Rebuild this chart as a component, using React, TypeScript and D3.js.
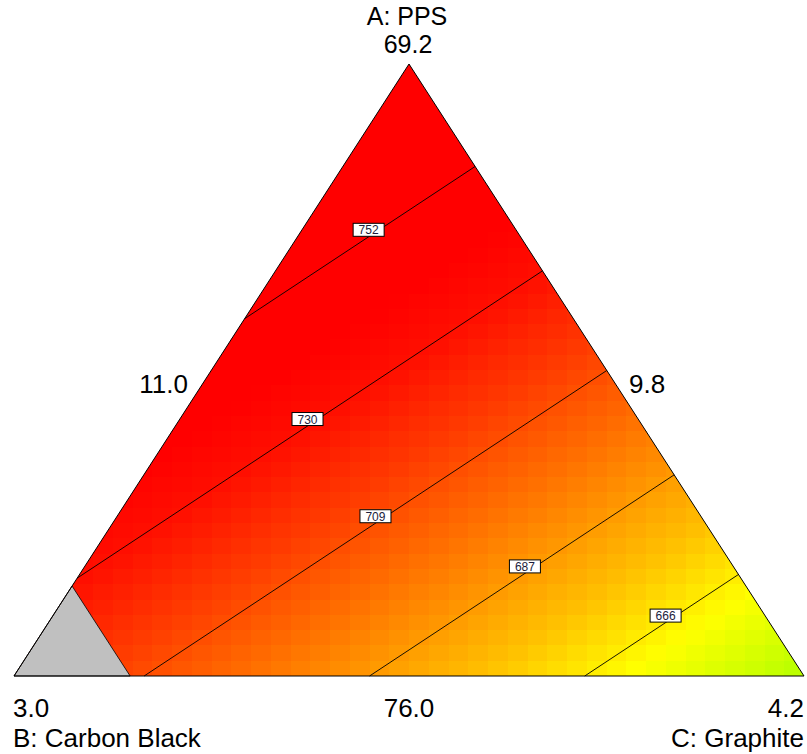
import React from 'react';
import * as d3 from 'd3';

// ---------- data ----------
const componentNames = ['A: PPS', 'B: Carbon Black', 'C: Graphite'];
const vertexValues = ['69.2', '3.0', '4.2']; // at vertices A, B, C
const oppositeEdgeValues = ['76.0', '9.8', '11.0']; // on edge opposite A, B, C
// linear mixture model coefficients (pseudo-component vertices A, B, C)
const modelCoefs = [773.6, 721.7, 644.6];
const contourLevels = [666, 687, 709, 730, 752];
const labelFractions = [0.526, 0.51, 0.5, 0.495, 0.538];
const bPseudoLimit = 0.853; // B above this is outside the design space
const colorValues = [644.6, 662, 676.5, 699, 715, 729, 740];
const colorStops = ['#b4ff00', '#ffff00', '#ffc000', '#ff7000', '#ff3a00', '#ff1000', '#ff0000'];

// ---------- layout ----------
const W = 807;
const H = 754;
const TOP: [number, number] = [409, 64];
const LEFT: [number, number] = [14, 676];
const RIGHT: [number, number] = [804, 676];
const N_GRID = 40;
const FONT = '"Liberation Sans", Arial, Helvetica, sans-serif';

type Tern = [number, number, number];

const toXY = (t: Tern): [number, number] => [
  t[0] * TOP[0] + t[1] * LEFT[0] + t[2] * RIGHT[0],
  t[0] * TOP[1] + t[1] * LEFT[1] + t[2] * RIGHT[1],
];
const fromXY = (x: number, y: number): Tern => {
  const a = (LEFT[1] - y) / (LEFT[1] - TOP[1]);
  const c = (x - LEFT[0] - a * (TOP[0] - LEFT[0])) / (RIGHT[0] - LEFT[0]);
  return [a, 1 - a - c, c];
};
const model = (t: Tern) => t[0] * modelCoefs[0] + t[1] * modelCoefs[1] + t[2] * modelCoefs[2];

const color = d3
  .scaleLinear<string>()
  .domain(colorValues)
  .range(colorStops)
  .interpolate(d3.interpolateRgb)
  .clamp(true);

export default function App() {
  const xScale = d3.scaleLinear().domain([0, N_GRID]).range([LEFT[0], RIGHT[0]]);
  const yScale = d3.scaleLinear().domain([0, N_GRID]).range([TOP[1], LEFT[1]]);
  const cw = (RIGHT[0] - LEFT[0]) / N_GRID;
  const ch = (LEFT[1] - TOP[1]) / N_GRID;

  const cells: { x: number; y: number; fill: string }[] = [];
  for (let i = 0; i < N_GRID; i++) {
    for (let j = 0; j < N_GRID; j++) {
      const x = xScale(i);
      const y = yScale(j);
      const t = fromXY(x + cw / 2, y + ch / 2);
      cells.push({ x, y, fill: color(model(t)) });
    }
  }

  const triPath = d3.line()([TOP, LEFT, RIGHT]) + 'Z';

  // feasible region (triangle without gray corner)
  const feasible: Tern[] = [
    [1, 0, 0],
    [1 - bPseudoLimit, bPseudoLimit, 0],
    [0, bPseudoLimit, 1 - bPseudoLimit],
    [0, 0, 1],
  ];
  const grayPoly: Tern[] = [
    [0, 1, 0],
    [1 - bPseudoLimit, bPseudoLimit, 0],
    [0, bPseudoLimit, 1 - bPseudoLimit],
  ];

  const contourSegs = contourLevels.map((lv) => {
    const pts: [number, number][] = [];
    for (let k = 0; k < feasible.length; k++) {
      const p = feasible[k];
      const q = feasible[(k + 1) % feasible.length];
      const f1 = model(p);
      const f2 = model(q);
      if ((f1 - lv) * (f2 - lv) < 0) {
        const s = (lv - f1) / (f2 - f1);
        const t: Tern = [p[0] + s * (q[0] - p[0]), p[1] + s * (q[1] - p[1]), p[2] + s * (q[2] - p[2])];
        pts.push(toXY(t));
      }
    }
    pts.sort((u, v) => u[0] - v[0]);
    return pts;
  });

  const line = d3.line();

  return (
    <svg
      width={W}
      height={H}
      style={{ position: 'absolute', left: 0, top: 0, background: '#fff' }}
      fontFamily={FONT}
    >
      <defs>
        <clipPath id="tri">
          <path d={triPath} />
        </clipPath>
      </defs>
      <g clipPath="url(#tri)" shapeRendering="crispEdges">
        {cells.map((c, i) => (
          <rect key={i} x={c.x} y={c.y} width={cw + 0.6} height={ch + 0.6} fill={c.fill} />
        ))}
      </g>
      <path
        d={line(grayPoly.map(toXY)) + 'Z'}
        fill="#c0c0c0"
        stroke="#000"
        strokeWidth={0.8}
      />
      {contourSegs.map((pts, i) =>
        pts.length === 2 ? (
          <path key={'c' + i} d={line(pts) || ''} fill="none" stroke="#000" strokeWidth={0.9} />
        ) : null
      )}
      <path d={triPath} fill="none" stroke="#000" strokeWidth={1} />
      {contourSegs.map((pts, i) => {
        if (pts.length !== 2) return null;
        const f = labelFractions[i];
        const px = pts[0][0] + f * (pts[1][0] - pts[0][0]);
        const py = pts[0][1] + f * (pts[1][1] - pts[0][1]) - 7;
        return (
          <g key={'l' + i}>
            <rect x={px - 15.5} y={py - 6.5} width={31} height={13} fill="#fff" stroke="#000" strokeWidth={1} />
            <text x={px} y={py + 4.5} textAnchor="middle" fontSize={12} fill="#1c1c3c">
              {contourLevels[i]}
            </text>
          </g>
        );
      })}
      <g fontSize={26} fill="#000">
        <text x={407} y={25} textAnchor="middle" fontSize={25}>{componentNames[0]}</text>
        <text x={408} y={53} textAnchor="middle" fontSize={25}>{vertexValues[0]}</text>
        <text x={188} y={393} textAnchor="end">{oppositeEdgeValues[2]}</text>
        <text x={629} y={393} textAnchor="start">{oppositeEdgeValues[1]}</text>
        <text x={13} y={717} textAnchor="start">{vertexValues[1]}</text>
        <text x={409} y={717} textAnchor="middle">{oppositeEdgeValues[0]}</text>
        <text x={804} y={717} textAnchor="end">{vertexValues[2]}</text>
        <text x={13} y={747} textAnchor="start">{componentNames[1]}</text>
        <text x={804} y={747} textAnchor="end">{componentNames[2]}</text>
      </g>
    </svg>
  );
}
